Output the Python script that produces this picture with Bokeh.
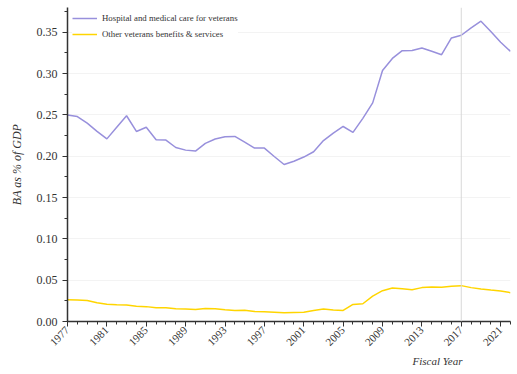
from bokeh.plotting import figure
from bokeh.models import FixedTicker, Span, Legend, LegendItem, Title, Range1d, PrintfTickFormatter
from bokeh.embed import file_html
from bokeh.resources import INLINE

years = list(range(1977, 2023))
hospital = [0.250, 0.248, 0.240, 0.230, 0.221, 0.235, 0.249, 0.230, 0.235, 0.220,
            0.2196, 0.2106, 0.2074, 0.2062, 0.2155, 0.2208, 0.2236, 0.224, 0.217, 0.2099,
            0.2099, 0.1997, 0.190, 0.194, 0.199, 0.2054, 0.219, 0.228, 0.236, 0.2289,
            0.2459, 0.2646, 0.3038, 0.3184, 0.3278, 0.328, 0.331, 0.327, 0.3229, 0.3431,
            0.3464, 0.3553, 0.3634, 0.351, 0.338, 0.3269]
other = [0.0264, 0.026, 0.0255, 0.0227, 0.021, 0.0202, 0.0200, 0.0186, 0.018, 0.0166,
         0.0166, 0.0154, 0.0152, 0.0146, 0.0158, 0.0155, 0.0142, 0.0134, 0.0135, 0.0122,
         0.0118, 0.0113, 0.0105, 0.011, 0.0113, 0.0134, 0.015, 0.014, 0.0134, 0.0207,
         0.0215, 0.0308, 0.0373, 0.0405, 0.0397, 0.0385, 0.041, 0.0418, 0.0414, 0.0426,
         0.0434, 0.041, 0.0393, 0.038, 0.0369, 0.0349]
series_names = ["Hospital and medical care for veterans", "Other veterans benefits & services"]
x_major = list(range(1977, 2023, 4))
y_major = [0.0, 0.05, 0.10, 0.15, 0.20, 0.25, 0.30, 0.35]
y_minor = [0.025, 0.075, 0.125, 0.175, 0.225, 0.275, 0.325, 0.375]
marker_year = 2017

FONT = "Liberation Serif"
AX = "#333333"

p = figure(width=517, height=374, output_backend="svg", toolbar_location=None,
           x_range=Range1d(1977, 2022), y_range=Range1d(0, 0.38),
           min_border_left=67, min_border_right=7, min_border_top=7, min_border_bottom=53)
p.outline_line_color = None

r1 = p.line(years, hospital, line_color="#9890dc", line_width=1.5)
r2 = p.line(years, other, line_color="#ffd500", line_width=1.5)

p.add_layout(Span(location=marker_year, dimension="height", line_color="#d9d9d9", line_width=1))

p.xaxis.ticker = FixedTicker(ticks=x_major, minor_ticks=years)
p.yaxis.ticker = FixedTicker(ticks=y_major, minor_ticks=y_minor)
p.yaxis.formatter = PrintfTickFormatter(format="%.2f")
p.xaxis.major_label_orientation = 0.785
p.xaxis.major_label_standoff = 2

for ax in (p.xaxis[0], p.yaxis[0]):
    ax.axis_line_color = AX
    ax.axis_line_width = 1.5
    ax.major_tick_line_color = AX
    ax.minor_tick_line_color = AX
    ax.major_tick_out = 5
    ax.major_tick_in = 0
    ax.minor_tick_out = 3
    ax.minor_tick_in = 0
    ax.major_label_text_font = FONT
    ax.major_label_text_color = "#333333"
p.yaxis.major_label_text_font_size = "12px"
p.xaxis.major_label_text_font_size = "11px"

p.yaxis.axis_label = "BA as % of GDP"
p.yaxis.axis_label_text_font = FONT
p.yaxis.axis_label_text_font_style = "italic"
p.yaxis.axis_label_text_font_size = "12px"
p.yaxis.axis_label_text_color = "#333333"
p.yaxis.axis_label_standoff = 10

p.xgrid.grid_line_color = None
p.ygrid.grid_line_color = "#f3f3f3"
p.ygrid.ticker = FixedTicker(ticks=y_major)

t = Title(text="Fiscal Year", align="right", offset=48, standoff=0, text_font=FONT,
          text_font_style="italic", text_font_size="11px", text_color="#333333")
p.add_layout(t, "below")

legend = Legend(items=[LegendItem(label=series_names[0], renderers=[r1]),
                       LegendItem(label=series_names[1], renderers=[r2])],
                location="top_left", border_line_color=None, background_fill_alpha=1,
                label_text_font=FONT, label_text_font_size="8.8px", label_text_color="#333333",
                glyph_width=25, glyph_height=12, spacing=4, padding=5, margin=5,
                label_height=12, label_standoff=5)
p.add_layout(legend)

open("out.html", "w").write(file_html(p, INLINE))
